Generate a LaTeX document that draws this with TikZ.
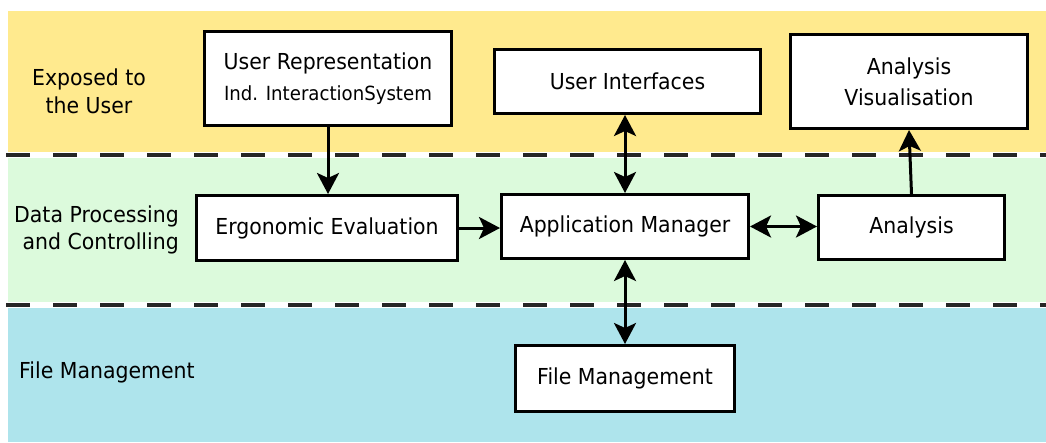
\documentclass[tikz,border=0pt]{standalone}
\usepackage{fontspec}
\setmainfont{DejaVu Sans}[FakeStretch=0.93]
\usetikzlibrary{arrows.meta}
\definecolor{bandyellow}{HTML}{FFEA8E}
\definecolor{bandgreen}{HTML}{DCFADC}
\definecolor{bandblue}{HTML}{AEE4EC}

\begin{document}
\begin{tikzpicture}[x=1pt,y=-1pt,
  box/.style={draw=black, line width=3pt, fill=white, inner sep=0pt,
    font=\fontsize{22}{31}\selectfont, align=center},
  lanelabel/.style={font=\fontsize{22}{28}\selectfont, inner sep=0pt},
  sep/.style={draw=black!85, line width=3.5pt, dash pattern=on 24pt off 23pt},
  tip/.tip={Stealth[length=21pt,width=22pt,inset=5pt]},
  conn/.style={line width=3pt, -tip},
  both/.style={line width=3pt, tip-tip},
]
\useasboundingbox (0,0) rectangle (1046,442);

% swim lanes
\fill[bandyellow] (8,11) rectangle (1046,152);
\fill[bandgreen] (8,158) rectangle (1046,302);
\fill[bandblue] (8,308) rectangle (1046,442);
\draw[sep] (6,155) -- (1046,155);
\draw[sep] (6,305) -- (1046,305);

% lane titles
\node[lanelabel, align=center] (lexp) at (89,91) {Exposed to\\the User};
\node[lanelabel, align=right, anchor=east, font=\fontsize{22}{27}\selectfont] (ldata) at (179,230) {Data Processing\\and Controlling};
\node[lanelabel, anchor=west] (lfile) at (19,372) {File Management};

% components
\node[box, minimum width=247pt, minimum height=94pt] (ur) at (328,78.5)
  {User Representation\\{\fontsize{19.5}{20}\selectfont Ind. InteractionSystem}};
\node[box, minimum width=266pt, minimum height=64pt] (ui) at (627.5,81.5) {User Interfaces};
\node[box, minimum width=237pt, minimum height=94pt] (av) at (909,81.5) {Analysis\\Visualisation};
\node[box, minimum width=261pt, minimum height=65pt] (ee) at (327,228) {Ergonomic Evaluation};
\node[box, minimum width=247pt, minimum height=64pt] (am) at (625,226.5) {Application Manager};
\node[box, minimum width=186pt, minimum height=64pt] (an) at (911.5,227.5) {Analysis};
\node[box, minimum width=219pt, minimum height=66pt] (fm) at (625,378.5) {File Management};

% data flow
\draw[conn] (ur.south) -- (ur.south |- ee.north);
\draw[conn] (ee.east) -- (ee.east -| am.west);
\draw[both] (am.north) -- (am.north |- ui.south);
\draw[both] (am.east) -- (am.east -| an.west);
\draw[conn] (an.north) -- (av.south);
\draw[both] (am.south) -- (fm.north);
\end{tikzpicture}
\end{document}
